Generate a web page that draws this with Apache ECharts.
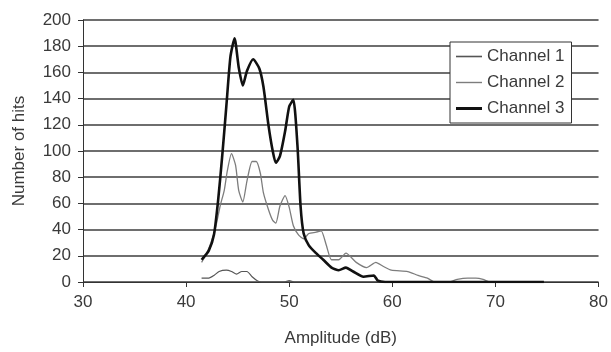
<!DOCTYPE html>
<html><head><meta charset="utf-8">
<script src="https://cdn.jsdelivr.net/npm/echarts@6/dist/echarts.min.js"></script>
<style>html,body{margin:0;padding:0;background:#fff}#c{width:611px;height:352px}</style>
</head><body><div id="c"></div>
<script>
var seriesNames = ['Channel 1', 'Channel 2', 'Channel 3'];
var xTicks = [30, 40, 50, 60, 70, 80];
var yTicks = [0, 20, 40, 60, 80, 100, 120, 140, 160, 180, 200];

var ch1X = [41.5, 42.2, 42.7, 43.2, 43.9, 44.4, 44.9, 45.4, 45.9, 46.4, 46.9, 47.3, 49.5, 50.0, 50.5, 52.0, 56.0, 60.0, 65.0, 70.0, 74.7];
var ch1Y = [3, 3, 5, 8, 9, 8, 6, 8, 8, 4, 1, 0, 0, 1, 0, 0, 0, 0, 0, 0, 0];

var ch2X = [41.5, 42.0, 42.5, 42.9, 43.3, 43.7, 44.0, 44.4, 44.8, 45.1, 45.5, 45.9, 46.4, 46.8, 47.2, 47.5, 48.0, 48.4, 48.7, 49.1, 49.6, 50.0, 50.4, 50.9, 51.4, 51.9, 52.6, 53.1, 53.6, 54.1, 54.8, 55.5, 56.5, 57.5, 58.4, 59.1, 59.9, 61.5, 62.5, 63.4, 64.1, 64.9, 65.5, 66.3, 67.3, 68.1, 68.8, 69.4, 70.0];
var ch2Y = [15, 22, 32, 43, 58, 70, 85, 98, 89, 70, 61, 77, 92, 92, 83, 68, 55, 47, 45, 58, 66, 57, 43, 36, 33, 37, 38, 39, 28, 17, 17, 22, 15, 11, 15, 12, 9, 8, 5, 3, 0, 0, 0, 2, 3, 3, 2, 0, 0];

var ch3X = [41.5, 42.2, 42.7, 43.1, 43.5, 43.9, 44.3, 44.7, 45.1, 45.5, 45.9, 46.5, 47.1, 47.5, 48.0, 48.4, 48.7, 49.1, 49.6, 50.0, 50.4, 50.8, 51.1, 51.4, 51.9, 52.6, 53.3, 54.1, 54.8, 55.5, 56.2, 57.2, 58.2, 58.6, 59.3, 62.0, 66.0, 70.0, 74.7];
var ch3Y = [17, 24, 36, 62, 96, 134, 172, 186, 164, 150, 161, 170, 163, 149, 119, 100, 91, 96, 115, 134, 139, 104, 58, 37, 28, 22, 17, 11, 9, 11, 8, 4, 5, 1, 0, 0, 0, 0, 0];

function pairs(xs, ys) { return xs.map(function (x, i) { return [x, ys[i]]; }); }

var chart = echarts.init(document.getElementById('c'));
var font = 'Liberation Sans, Arial, sans-serif';
var txt = { fontFamily: font, fontSize: 17, color: '#3a3a3a' };
chart.setOption({
  animation: false,
  backgroundColor: '#ffffff',
  grid: { left: 83, right: 10, top: 20, bottom: 63 },
  legend: {
    orient: 'vertical', left: 450, top: 42,
    backgroundColor: '#ffffff', borderColor: '#333', borderWidth: 1,
    padding: [6, 7, 6, 6], itemGap: 9, itemWidth: 26, itemHeight: 18,
    textStyle: txt,
    data: [
      { name: seriesNames[0], icon: 'path://M0,8.2L26,8.2L26,9.8L0,9.8Z' },
      { name: seriesNames[1], icon: 'path://M0,8.3L26,8.3L26,9.7L0,9.7Z' },
      { name: seriesNames[2], icon: 'path://M0,7.5L26,7.5L26,10.5L0,10.5Z' }
    ]
  },
  xAxis: {
    type: 'value', min: xTicks[0], max: xTicks[xTicks.length - 1], interval: 10,
    name: 'Amplitude (dB)', nameLocation: 'middle', nameGap: 48,
    nameTextStyle: txt,
    axisLine: { onZero: false, lineStyle: { color: '#333', width: 1 } },
    axisTick: { show: true, length: 5, inside: false, lineStyle: { color: '#333' } },
    axisLabel: Object.assign({ margin: 12 }, txt),
    splitLine: { show: false }
  },
  yAxis: {
    type: 'value', min: yTicks[0], max: yTicks[yTicks.length - 1], interval: 20,
    name: 'Number of hits', nameLocation: 'middle', nameGap: 55, nameRotate: 90,
    nameTextStyle: txt,
    axisLine: { show: true, lineStyle: { color: '#333', width: 1 } },
    axisTick: { show: true, length: 5, lineStyle: { color: '#333' } },
    axisLabel: Object.assign({ margin: 12 }, txt),
    splitLine: { show: true, lineStyle: { color: '#6e6e6e', width: 1.8 } }
  },
  series: [
    { name: seriesNames[0], type: 'line', data: pairs(ch1X, ch1Y), showSymbol: false, smooth: 0.2,
      lineStyle: { color: '#555555', width: 1.2 }, itemStyle: { color: '#555555' }, z: 3 },
    { name: seriesNames[1], type: 'line', data: pairs(ch2X, ch2Y), showSymbol: false, smooth: 0.2,
      lineStyle: { color: '#7d7d7d', width: 1.3 }, itemStyle: { color: '#7d7d7d' }, z: 4 },
    { name: seriesNames[2], type: 'line', data: pairs(ch3X, ch3Y), showSymbol: false, smooth: 0.2,
      lineStyle: { color: '#111111', width: 2.6 }, itemStyle: { color: '#111111' }, z: 5 }
  ]
});
</script></body></html>
